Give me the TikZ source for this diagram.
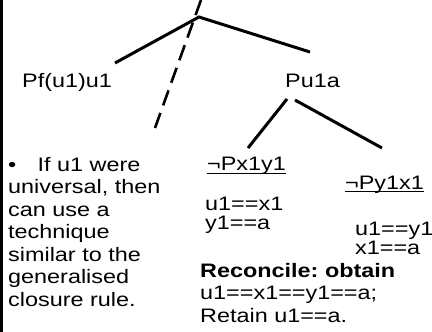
\documentclass[tikz,border=0pt]{standalone}
\usepackage{fontspec}
\setmainfont[FakeStretch=1.2]{Liberation Sans}
\frenchspacing
\begin{document}
\begin{tikzpicture}[x=1pt,y=-1pt,
  txt/.style={inner sep=0pt, anchor=base west, font=\fontsize{19.5}{22.6}\selectfont},
  lbl/.style={txt, font=\fontsize{19.5}{22.6}\selectfont},
  para/.style={txt, text width=230pt, align=left},
  eqs/.style={txt, text width=100pt, align=left, font=\fontsize{19.5}{19.5}\selectfont},
  uline/.style={line width=1.2pt},
  edge/.style={line width=3pt},
  dashedge/.style={line width=2.6pt, dash pattern=on 16pt off 8pt}]
\useasboundingbox (0,0) rectangle (432,332);
% left border bar
\coordinate (bartop) at (1.4,0);
\coordinate (barbot) at (1.4,332);
\draw[line width=2.8pt] (bartop) -- (barbot);
% tree
\coordinate (root) at (199,17);
\coordinate (dtop) at (201,0);
\coordinate (dbot) at (155,128);
\node[lbl] (pf) at (22,87) {Pf(u1)u1};
\node[lbl] (pu) at (285,87) {Pu1a};
\coordinate (pfend) at (115,63);
\coordinate (puend) at (310,52);
\coordinate (pua) at (287,99);
\coordinate (pub) at (295,100);
\coordinate (pxend) at (248,148);
\coordinate (pyend) at (382,148);
\draw[edge] (pfend) -- (root) -- (puend);
\draw[dashedge] (dtop) -- (dbot);
\draw[edge] (pua) -- (pxend);
\draw[edge] (pub) -- (pyend);
% left paragraph
\node[para] (note) at (8,171) {\makebox[29.5pt][l]{\textbullet}If u1 were\\universal, then\\can use a\\technique\\similar to the\\generalised\\closure rule.};
% branches
\node[lbl] (px) at (207,170.5) {¬Px1y1};
\draw[uline] ([yshift=-2.6pt]px.base west) -- ([yshift=-2.6pt]px.base east);
\node[lbl] (py) at (345,189) {¬Py1x1};
\draw[uline] ([yshift=-2.6pt]py.base west) -- ([yshift=-2.6pt]py.base east);
\node[eqs] (pxeq) at (205,210) {u1==x1\\y1==a};
\node[eqs] (pyeq) at (355,235) {u1==y1\\x1==a};
\node[para, text width=232pt] (rec) at (200,277) {\textbf{Reconcile: obtain}\\u1==x1==y1==a;\\Retain u1==a.};
\end{tikzpicture}
\end{document}
